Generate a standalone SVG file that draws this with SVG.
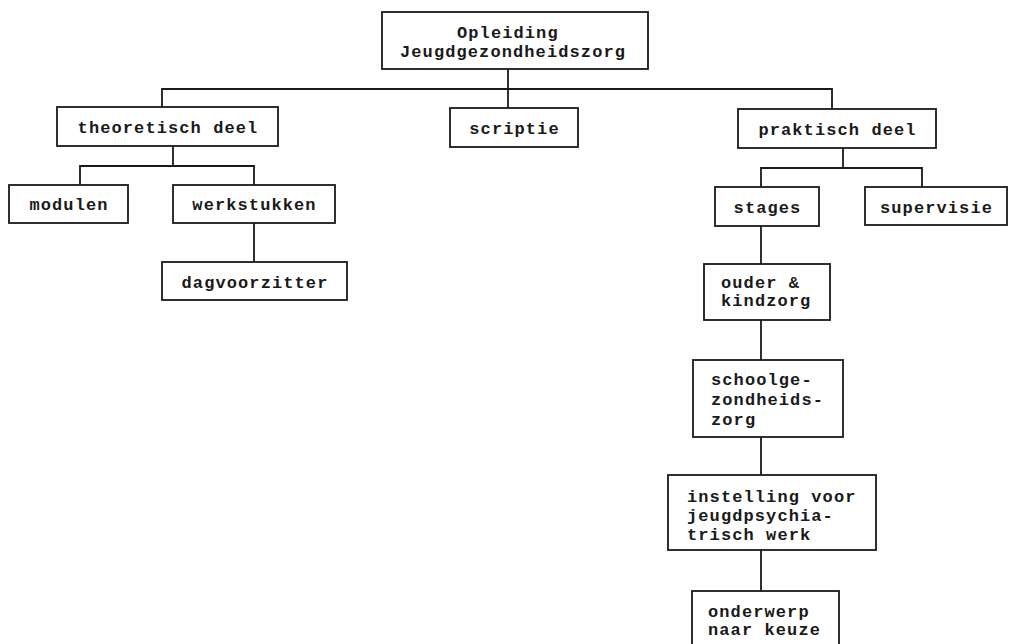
<svg xmlns="http://www.w3.org/2000/svg" width="1009" height="644" viewBox="0 0 1009 644">
<style>
.box{fill:#fff;stroke:#1a1a1a;stroke-width:1.8}
.t{font-family:"Liberation Mono","Courier New",monospace;font-weight:bold;font-size:17px;letter-spacing:1.1px;fill:#1a1a1a}
.c{text-anchor:middle}
#connectors path{fill:none;stroke:#1a1a1a;stroke-width:1.8}
</style>
<rect width="1009" height="644" fill="#fff"/>
<g id="connectors">
<path d="M508 69V108"/>
<path d="M162 107V89H832V109"/>
<path d="M173 146V166M80 185V166H254V185"/>
<path d="M254 223V262"/>
<path d="M843 148V168M761 187V168H922V187"/>
<path d="M761 226V264M761 320V360M761 437V475M761 550V591"/>
</g>
<g id="opleiding"><rect class="box" x="382" y="12" width="266" height="57"/><text class="t" x="457" y="38">Opleiding</text><text class="t" x="400" y="57">Jeugdgezondheidszorg</text></g>
<g id="theoretisch"><rect class="box" x="57" y="107" width="221" height="39"/><text class="t c" x="168" y="133">theoretisch deel</text></g>
<g id="scriptie"><rect class="box" x="450" y="108" width="128" height="39"/><text class="t c" x="514.5" y="134">scriptie</text></g>
<g id="praktisch"><rect class="box" x="738" y="109" width="198" height="39"/><text class="t c" x="837.5" y="135">praktisch deel</text></g>
<g id="modulen"><rect class="box" x="9" y="185" width="119" height="38"/><text class="t c" x="69" y="210">modulen</text></g>
<g id="werkstukken"><rect class="box" x="173" y="185" width="162" height="38"/><text class="t c" x="254.5" y="210">werkstukken</text></g>
<g id="dagvoorzitter"><rect class="box" x="162" y="262" width="185" height="38"/><text class="t c" x="255" y="288">dagvoorzitter</text></g>
<g id="stages"><rect class="box" x="715" y="187" width="104" height="39"/><text class="t c" x="767.5" y="213">stages</text></g>
<g id="supervisie"><rect class="box" x="865" y="187" width="142" height="38"/><text class="t c" x="936.5" y="213">supervisie</text></g>
<g id="ouder"><rect class="box" x="704" y="264" width="126" height="56"/><text class="t" x="721" y="288">ouder &amp;</text><text class="t" x="721" y="306">kindzorg</text></g>
<g id="schoolgezondheidszorg"><rect class="box" x="693" y="360" width="150" height="77"/><text class="t" x="711" y="385">schoolge-</text><text class="t" x="711" y="405">zondheids-</text><text class="t" x="711" y="425">zorg</text></g>
<g id="instelling"><rect class="box" x="668" y="475" width="208" height="75"/><text class="t" x="687" y="502">instelling voor</text><text class="t" x="687" y="521">jeugdpsychia-</text><text class="t" x="687" y="540">trisch werk</text></g>
<g id="onderwerp"><rect class="box" x="692" y="591" width="147" height="60"/><text class="t" x="708" y="617">onderwerp</text><text class="t" x="708" y="635">naar keuze</text></g>
</svg>
